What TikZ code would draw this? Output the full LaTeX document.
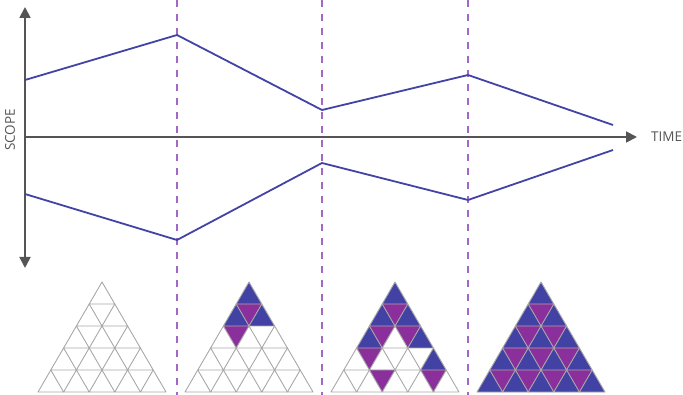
\documentclass[tikz,border=0pt]{standalone}
\usepackage{fontspec}
\setmainfont{Open Sans}
\usetikzlibrary{arrows.meta}
\definecolor{lineblue}{HTML}{4343A6}
\definecolor{cellblue}{HTML}{4242A4}
\definecolor{cellpurple}{HTML}{8A2F9C}
\definecolor{dashpurple}{HTML}{A468C4}
\definecolor{axisgray}{HTML}{555555}
\definecolor{gridgray}{HTML}{A8A8A8}
\newcommand\myup[4]{\fill[#4] ({#1+(2*(#3)-(#2))*12.8},{282+(#2)*22}) -- ({#1+(2*(#3)-(#2)-1)*12.8},{282+((#2)+1)*22}) -- ({#1+(2*(#3)-(#2)+1)*12.8},{282+((#2)+1)*22}) -- cycle;}
\newcommand\mydown[4]{\fill[#4] ({#1+(2*(#3)-(#2))*12.8},{282+(#2)*22}) -- ({#1+(2*(#3)-(#2)+2)*12.8},{282+(#2)*22}) -- ({#1+(2*(#3)-(#2)+1)*12.8},{282+((#2)+1)*22}) -- cycle;}
\newcommand\mygrid[1]{\foreach \r in {0,...,4}{\foreach \k in {0,...,\r}{\draw[gridline] ({#1+(2*\k-\r)*12.8},{282+\r*22}) -- ({#1+(2*\k-\r-1)*12.8},{282+(\r+1)*22}) -- ({#1+(2*\k-\r+1)*12.8},{282+(\r+1)*22}) -- cycle;}}}
\begin{document}
\begin{tikzpicture}[x=1pt,y=-1pt,
  axis/.style={draw=axisgray,line width=1.8pt,-{Triangle[length=11pt,width=11pt]}},
  scopeline/.style={draw=lineblue,line width=1.8pt,line join=round},
  divider/.style={draw=dashpurple,line width=1.3pt,dash pattern=on 7pt off 7pt},
  gridline/.style={draw=gridgray,line width=0.9pt,line join=round},
  label/.style={text=axisgray,font=\fontsize{13.5}{15}\selectfont,inner sep=0pt}]
\useasboundingbox (0,0) rectangle (683,395);
% dividers
\foreach \x/\n in {177/a,322/b,468/c}{
  \coordinate (d\n t) at (\x,0);
  \coordinate (d\n b) at (\x,395);
  \draw[divider] (d\n t) -- (d\n b);
}
% axes
\coordinate (ytop) at (25,7);
\coordinate (ybot) at (25,268);
\coordinate (ymid) at (25,137);
\coordinate (xend) at (637,137);
\draw[axis] (ymid) -- (ytop);
\draw[axis] (ymid) -- (ybot);
\draw[axis] (ymid) -- (xend);
\node[label,anchor=west] (time) at (651,137) {TIME};
\node[label,rotate=90] (scope) at (10,130) {SCOPE};
% scope lines
\coordinate (u0) at (25,80);
\coordinate (u1) at (177,35);
\coordinate (u2) at (322,110);
\coordinate (u3) at (468,75);
\coordinate (u4) at (613,125);
\coordinate (l0) at (25,194);
\coordinate (l1) at (177,240);
\coordinate (l2) at (322,163);
\coordinate (l3) at (468,200);
\coordinate (l4) at (613,150);
\draw[scopeline] (u0) -- (u1) -- (u2) -- (u3) -- (u4);
\draw[scopeline] (l0) -- (l1) -- (l2) -- (l3) -- (l4);
% triangle 2
\myup{249}{0}{0}{cellblue}
\myup{249}{1}{0}{cellblue}
\myup{249}{1}{1}{cellblue}
\mydown{249}{1}{0}{cellpurple}
\mydown{249}{2}{0}{cellpurple}
% triangle 3
\myup{395}{0}{0}{cellblue}
\myup{395}{1}{0}{cellblue}
\myup{395}{1}{1}{cellblue}
\mydown{395}{1}{0}{cellpurple}
\myup{395}{2}{0}{cellblue}
\myup{395}{2}{2}{cellblue}
\mydown{395}{2}{0}{cellpurple}
\mydown{395}{2}{1}{cellpurple}
\mydown{395}{3}{0}{cellpurple}
\myup{395}{3}{3}{cellblue}
\mydown{395}{4}{1}{cellpurple}
\mydown{395}{4}{3}{cellpurple}
% triangle 4
\foreach \r in {0,...,4}{\foreach \k in {0,...,\r}{\myup{541}{\r}{\k}{cellblue}}}
\foreach \r in {1,...,4}{\foreach \k in {1,...,\r}{\mydown{541}{\r}{\k-1}{cellpurple}}}
% grids
\mygrid{102}
\mygrid{249}
\mygrid{395}
\mygrid{541}
\end{tikzpicture}
\end{document}
